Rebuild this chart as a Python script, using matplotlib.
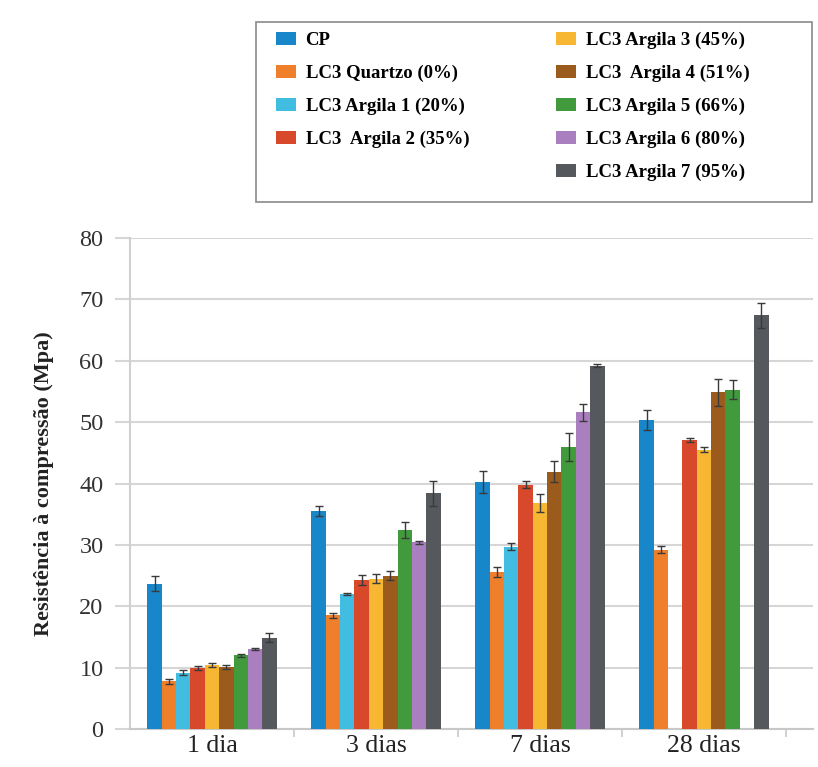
import numpy as np
import matplotlib
matplotlib.use("Agg")
import matplotlib.pyplot as plt
from matplotlib.patches import Rectangle

plt.rcParams['font.family'] = ['Liberation Serif', 'DejaVu Serif']

idades = ['1 dia', '3 dias', '7 dias', '28 dias']
series = ['CP', 'LC3 Quartzo (0%)', 'LC3 Argila 1 (20%)', 'LC3  Argila 2 (35%)',
          'LC3 Argila 3 (45%)', 'LC3  Argila 4 (51%)', 'LC3 Argila 5 (66%)',
          'LC3 Argila 6 (80%)', 'LC3 Argila 7 (95%)']
cores = ['#1787c9', '#f07f2b', '#41bde2', '#d8482b', '#f8b733',
         '#9a5b1d', '#419b3d', '#a97fc0', '#55585c']

cp = [23.7, 35.5, 40.2, 50.3]
quartzo = [7.8, 18.5, 25.6, 29.2]
argila1 = [9.2, 22.0, 29.7, np.nan]
argila2 = [9.9, 24.3, 39.8, 47.1]
argila3 = [10.4, 24.5, 36.8, 45.5]
argila4 = [10.1, 25.0, 41.9, 54.9]
argila5 = [12.0, 32.4, 46.0, 55.3]
argila6 = [13.0, 30.4, 51.6, np.nan]
argila7 = [14.9, 38.4, 59.2, 67.4]

err_cp = [1.2, 0.8, 1.8, 1.6]
err_quartzo = [0.4, 0.4, 0.8, 0.6]
err_argila1 = [0.4, 0.2, 0.6, np.nan]
err_argila2 = [0.3, 0.8, 0.6, 0.3]
err_argila3 = [0.3, 0.7, 1.5, 0.4]
err_argila4 = [0.3, 0.7, 1.7, 2.2]
err_argila5 = [0.3, 1.3, 2.3, 1.5]
err_argila6 = [0.2, 0.3, 1.4, np.nan]
err_argila7 = [0.8, 2.0, 0.2, 2.0]

valores = [cp, quartzo, argila1, argila2, argila3, argila4, argila5, argila6, argila7]
erros = [err_cp, err_quartzo, err_argila1, err_argila2, err_argila3,
         err_argila4, err_argila5, err_argila6, err_argila7]

fig = plt.figure(figsize=(8.18, 7.67), dpi=100)
ax = fig.add_axes([130/818, 38/767, 683/818, 491/767])

n = len(series)
w = 0.0875
x = np.arange(len(idades))
handles = []
for i in range(n):
    v = np.array(valores[i], dtype=float)
    e = np.array(erros[i], dtype=float)
    ok = ~np.isnan(v)
    pos = x + (i - (n - 1) / 2) * w
    b = ax.bar(pos[ok], v[ok], width=w, color=cores[i], zorder=3)
    ax.errorbar(pos[ok], v[ok], yerr=e[ok], fmt='none', ecolor='#3a3a3a',
                elinewidth=1, capsize=3, capthick=1, zorder=4)
    handles.append(b)

ax.set_ylim(0, 80)
ax.set_xlim(-0.5, 3.665)
ax.set_yticks(range(0, 81, 10))
ax.yaxis.grid(True, color='#d6d6d6', linewidth=1.5, zorder=0)
ax.set_xticks(x)
ax.set_xticklabels(idades, fontsize=18.5)
ax.set_xticks([0.5, 1.5, 2.5, 3.5], minor=True)
ax.tick_params(axis='x', which='major', length=0, pad=4, labelcolor='#222222')
ax.tick_params(axis='x', which='minor', length=6, color='#c8c8c8', width=1.2)
ax.tick_params(axis='y', length=11, color='#d6d6d6', width=1.5, labelsize=17.5,
               pad=8, labelcolor='#333333')
for s in ['top', 'right']:
    ax.spines[s].set_visible(False)
ax.spines['left'].set_color('#d0d0d0')
ax.spines['left'].set_linewidth(1.5)
ax.spines['bottom'].set_color('#c8c8c8')
ax.spines['bottom'].set_linewidth(1.5)
ax.set_ylabel('Resistência à compressão (Mpa)', fontsize=16, fontweight='bold',
              labelpad=18, color='#222222')

# moldura da legenda
fig.patches.append(Rectangle((256/818, 1 - 202/767), 556/818, 180/767,
                             transform=fig.transFigure, fill=False,
                             edgecolor='#8a8a8a', linewidth=1.2))

vazio = Rectangle((0, 0), 1, 1, alpha=0)
hs = handles[:4] + [vazio] + handles[4:]
ls = series[:4] + [''] + series[4:]
leg = fig.legend(hs, ls, ncol=2, loc='upper left',
                 bbox_to_anchor=(270/818, 1 - 26/767),
                 prop={'family': 'Liberation Serif', 'weight': 'bold', 'size': 13.5},
                 frameon=False,
                 handlelength=1.1, handleheight=0.75, handletextpad=0.5,
                 columnspacing=4.6, labelspacing=0.83, borderpad=0.3,
                 borderaxespad=0)

fig.savefig('out.png', dpi=100)
